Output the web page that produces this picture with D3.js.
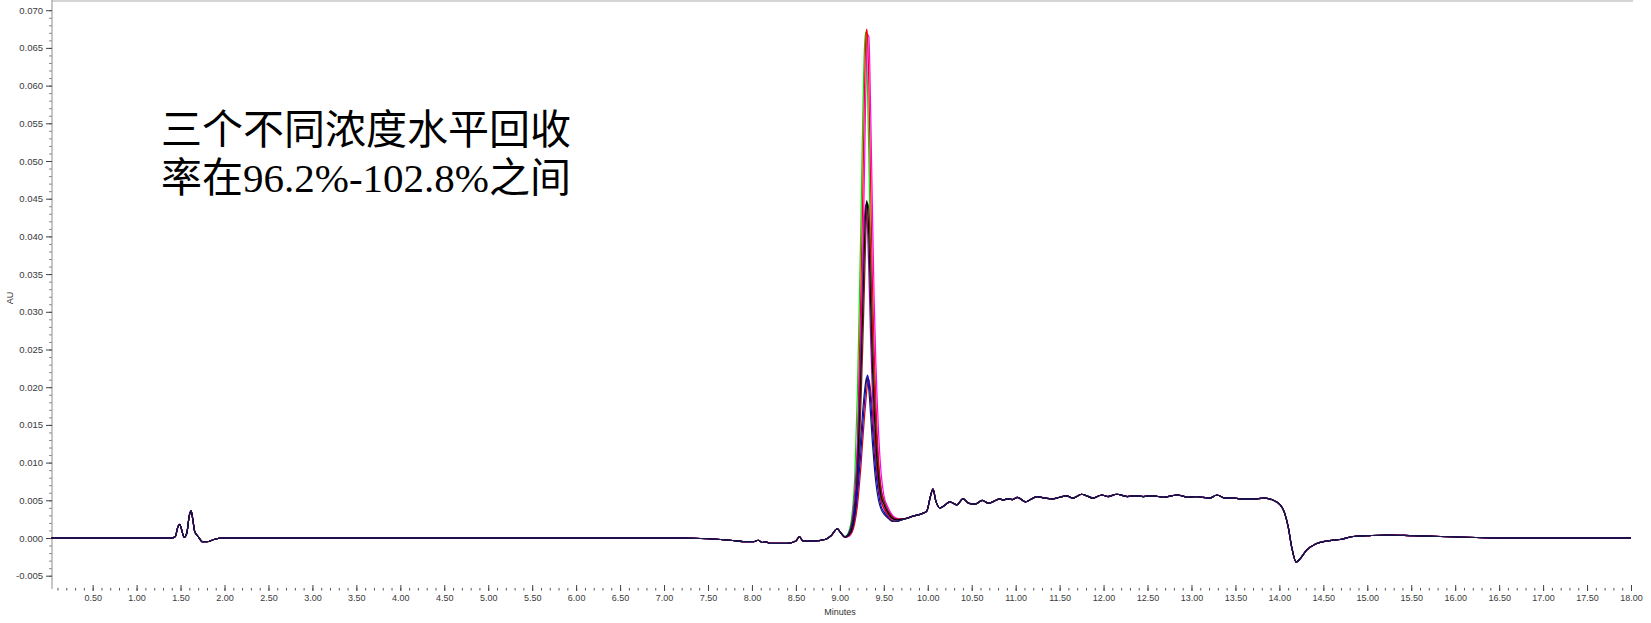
<!DOCTYPE html>
<html><head><meta charset="utf-8">
<script src="https://cdn.jsdelivr.net/npm/d3@7"></script>
<style>body{margin:0;background:#fff;} svg{display:block;}</style>
</head><body><svg id="c" width="1651" height="623"></svg>
<script>
// ---- shared baseline (minutes, AU) ----
const baseTimes = [0.03,1.40,1.44,1.47,1.49,1.51,1.54,1.57,1.60,1.62,1.64,1.66,1.70,1.75,1.80,1.88,1.96,
  7.20,7.50,7.75,7.95,8.02,8.07,8.12,8.16,8.20,8.40,8.50,8.54,8.58,8.70,8.83,8.90,8.97,9.01,
  9.76,9.83,9.90,9.95,9.99,10.03,10.06,10.09,10.14,10.20,10.25,10.33,10.40,10.47,10.54,10.62,10.69,10.76,10.82,10.86,10.90,10.96,
  11.02,11.11,11.17,11.24,11.33,11.42,11.50,11.58,11.65,11.75,11.88,11.98,12.05,12.15,12.27,12.36,12.45,12.56,12.68,12.84,12.96,
  13.05,13.13,13.21,13.29,13.38,13.47,13.55,13.65,13.74,13.84,13.93,14.01,14.06,14.10,14.14,14.19,14.24,14.31,14.41,14.54,14.69,
  14.84,15.00,15.22,15.52,15.83,16.13,16.51,18.00];
const baseValues = [0,0,0.0002,0.0015,0.0018,0.0012,0.0001,0.0006,0.0030,0.0036,0.0024,0.0009,0.0002,-0.0005,-0.0005,-0.0002,0,
  0,-0.0001,-0.0003,-0.0005,-0.0005,-0.0003,-0.0006,-0.0005,-0.0007,-0.0007,-0.0004,0.0002,-0.0004,-0.0004,-0.0002,0.0003,0.0012,0.0007,
  0.0026,0.0029,0.0031,0.0033,0.0036,0.0055,0.0065,0.0050,0.0040,0.0044,0.0048,0.0044,0.0052,0.0046,0.0045,0.0050,0.0046,0.0049,0.0052,0.0050,0.0052,0.0051,
  0.0054,0.0048,0.0051,0.0055,0.0053,0.0052,0.0054,0.0056,0.0053,0.0058,0.0053,0.0057,0.0055,0.0058,0.0055,0.0056,0.0055,0.0056,0.0054,0.0057,0.0054,
  0.0055,0.0054,0.0053,0.0057,0.0053,0.0053,0.0052,0.0052,0.0052,0.0053,0.0050,0.0044,0.0033,0.0015,-0.0012,-0.0032,-0.0027,-0.0016,-0.0008,-0.0004,-0.0002,
  0.0002,0.0003,0.0004,0.0003,0.0002,0.0001,0,0];

// ---- main peak region, one array per injection ----
const peakTimes = [9.06,9.10,9.14,9.17,9.20,9.22,9.24,9.26,9.28,9.295,9.305,9.315,9.33,9.35,9.37,9.39,9.41,9.44,9.47,9.50,9.55,9.60,9.65,9.70];
const highA = [0.0001,0.0004,0.0016,0.0050,0.0115,0.0225,0.0330,0.0450,0.0590,0.0660,0.0675,0.0665,0.0600,0.0470,0.0340,0.0250,0.0180,0.0105,0.0065,0.0050,0.0036,0.0028,0.0025,0.0025];
const highB = [0.0002,0.0008,0.0033,0.0082,0.0195,0.0305,0.0420,0.0555,0.0650,0.0671,0.0650,0.0595,0.0505,0.0372,0.0272,0.0197,0.0142,0.0085,0.0057,0.0046,0.0034,0.0027,0.0025,0.0025];
const highC = [0.0001,0.0002,0.0010,0.0033,0.0082,0.0142,0.0250,0.0360,0.0485,0.0590,0.0640,0.0668,0.0665,0.0570,0.0440,0.0318,0.0232,0.0142,0.0085,0.0057,0.0040,0.0030,0.0026,0.0025];
const midA  = [0.0001,0.0004,0.0014,0.0040,0.0085,0.0150,0.0220,0.0300,0.0390,0.0435,0.0447,0.0440,0.0400,0.0315,0.0230,0.0170,0.0125,0.0080,0.0055,0.0045,0.0033,0.0026,0.0024,0.0025];
const midB  = [0.0001,0.0006,0.0025,0.0060,0.0125,0.0192,0.0268,0.0354,0.0425,0.0442,0.0436,0.0410,0.0352,0.0265,0.0194,0.0143,0.0105,0.0068,0.0049,0.0041,0.0031,0.0025,0.0024,0.0025];
const midC  = [0.0001,0.0003,0.0009,0.0026,0.0060,0.0111,0.0178,0.0252,0.0336,0.0400,0.0430,0.0444,0.0435,0.0372,0.0280,0.0205,0.0152,0.0096,0.0064,0.0050,0.0036,0.0028,0.0025,0.0025];
const lowA  = [0.0001,0.0004,0.0012,0.0030,0.0058,0.0085,0.0115,0.0150,0.0180,0.0200,0.0211,0.0216,0.0208,0.0183,0.0148,0.0114,0.0087,0.0059,0.0042,0.0035,0.0027,0.0022,0.0022,0.0024];
const lowB  = [0.0002,0.0006,0.0020,0.0042,0.0076,0.0104,0.0136,0.0168,0.0194,0.0208,0.0213,0.0210,0.0196,0.0163,0.0127,0.0097,0.0073,0.0050,0.0038,0.0032,0.0026,0.0022,0.0022,0.0024];
const lowC  = [0.0001,0.0003,0.0008,0.0020,0.0043,0.0067,0.0095,0.0128,0.0160,0.0180,0.0194,0.0204,0.0210,0.0196,0.0168,0.0133,0.0103,0.0070,0.0049,0.0039,0.0029,0.0023,0.0022,0.0024];

// draw order (last on top)
const seriesPeaks  = [highB, highC, highA, midB, midC, lowC, lowA, midA, lowB];
const seriesColors = ["#00e000", "#ff00ff", "#ff0000", "#b000c0", "#8b1a1a", "#e00000", "#0000ff", "#000000", "#1a1a50"];

// axis ticks
const xTickValues = [0.5,1,1.5,2,2.5,3,3.5,4,4.5,5,5.5,6,6.5,7,7.5,8,8.5,9,9.5,10,10.5,11,11.5,12,12.5,13,13.5,14,14.5,15,15.5,16,16.5,17,17.5,18];
const xTickLabels = ["0.50","1.00","1.50","2.00","2.50","3.00","3.50","4.00","4.50","5.00","5.50","6.00","6.50","7.00","7.50","8.00","8.50","9.00","9.50","10.00","10.50","11.00","11.50","12.00","12.50","13.00","13.50","14.00","14.50","15.00","15.50","16.00","16.50","17.00","17.50","18.00"];
const yTickValues = [-0.005,0,0.005,0.010,0.015,0.020,0.025,0.030,0.035,0.040,0.045,0.050,0.055,0.060,0.065,0.070];
const yTickLabels = ["-0.005","0.000","0.005","0.010","0.015","0.020","0.025","0.030","0.035","0.040","0.045","0.050","0.055","0.060","0.065","0.070"];
const xTitle = "Minutes";
const yTitle = "AU";
const annotationLines = ["三个不同浓度水平回收", "率在96.2%-102.8%之间"];

// ---- drawing ----
const svg = d3.select("#c");
const x = d3.scaleLinear().domain([0, 18]).range([48.7, 1631]);
const y = d3.scaleLinear().domain([-0.005, 0.070]).range([575.7, 10.2]);
const plotL = 52, plotR = 1633, plotT = 1, plotB = 589;

// frame
svg.append("line").attr("x1", plotL).attr("x2", plotR).attr("y1", plotT).attr("y2", plotT)
  .attr("stroke", "#d4d4d4").attr("stroke-width", 2);
svg.append("line").attr("x1", plotL).attr("x2", plotL).attr("y1", 0).attr("y2", plotB)
  .attr("stroke", "#a8a8a8").attr("stroke-width", 1.3);

// y axis
const yMinor = d3.range(-5, 71).map(i => i / 1000);
const gyMinor = svg.append("g").attr("transform", `translate(${plotL},0)`)
  .call(d3.axisLeft(y).tickValues(yMinor).tickSize(3).tickFormat(""));
gyMinor.select(".domain").remove();
gyMinor.selectAll(".tick line").attr("stroke", "#8a8a8a");
const gy = svg.append("g").attr("transform", `translate(${plotL},0)`)
  .call(d3.axisLeft(y).tickValues(yTickValues).tickSize(6).tickPadding(3).tickFormat((d, i) => yTickLabels[i]));
gy.select(".domain").remove();
gy.selectAll(".tick line").attr("stroke", "#444");
gy.selectAll(".tick text").attr("font-family", "Liberation Sans, Arial, sans-serif")
  .attr("font-size", 9.5).attr("fill", "#3a3a3a");

// x axis
const xMinor = d3.range(1, 181).map(i => i / 10);
const gxMinor = svg.append("g").attr("transform", `translate(0,588)`)
  .call(d3.axisBottom(x).tickValues(xMinor).tickSize(2.5).tickFormat(""));
gxMinor.select(".domain").remove();
gxMinor.selectAll(".tick line").attr("stroke", "#555");
const gx = svg.append("g").attr("transform", `translate(0,585)`)
  .call(d3.axisBottom(x).tickValues(xTickValues).tickSize(6).tickPadding(4).tickFormat((d, i) => xTickLabels[i]));
gx.select(".domain").remove();
gx.selectAll(".tick line").attr("stroke", "#444");
gx.selectAll(".tick text").attr("font-family", "Liberation Sans, Arial, sans-serif")
  .attr("font-size", 9).attr("fill", "#3a3a3a");

svg.append("text").attr("x", 840).attr("y", 615).attr("text-anchor", "middle")
  .attr("font-family", "Liberation Sans, Arial, sans-serif").attr("font-size", 9).attr("fill", "#333").text(xTitle);
svg.append("text").attr("transform", "translate(13,298) rotate(-90)").attr("text-anchor", "middle")
  .attr("font-family", "Liberation Sans, Arial, sans-serif").attr("font-size", 9).attr("fill", "#333").text(yTitle);

// traces
const line = d3.line().x(d => x(d[0])).y(d => y(d[1])).curve(d3.curveMonotoneX);
const t0 = peakTimes[0], t1 = peakTimes[peakTimes.length - 1];
const before = baseTimes.map((t, i) => [t, baseValues[i]]).filter(d => d[0] < t0);
const after = baseTimes.map((t, i) => [t, baseValues[i]]).filter(d => d[0] > t1);
seriesPeaks.forEach((vals, k) => {
  const pts = before.concat(peakTimes.map((t, i) => [t, vals[i]]), after);
  svg.append("path").datum(pts).attr("d", line).attr("fill", "none")
    .attr("stroke", seriesColors[k]).attr("stroke-width", 1.2).attr("stroke-linejoin", "round");
});

// annotation
const ann = svg.append("text").attr("font-family", "Liberation Serif, 'Times New Roman', 'Noto Sans CJK SC', serif")
  .attr("font-size", 41).attr("fill", "#000");
ann.selectAll("tspan").data(annotationLines).join("tspan")
  .attr("x", 161).attr("y", (d, i) => 144 + i * 48).text(d => d);
</script>
</body></html>
